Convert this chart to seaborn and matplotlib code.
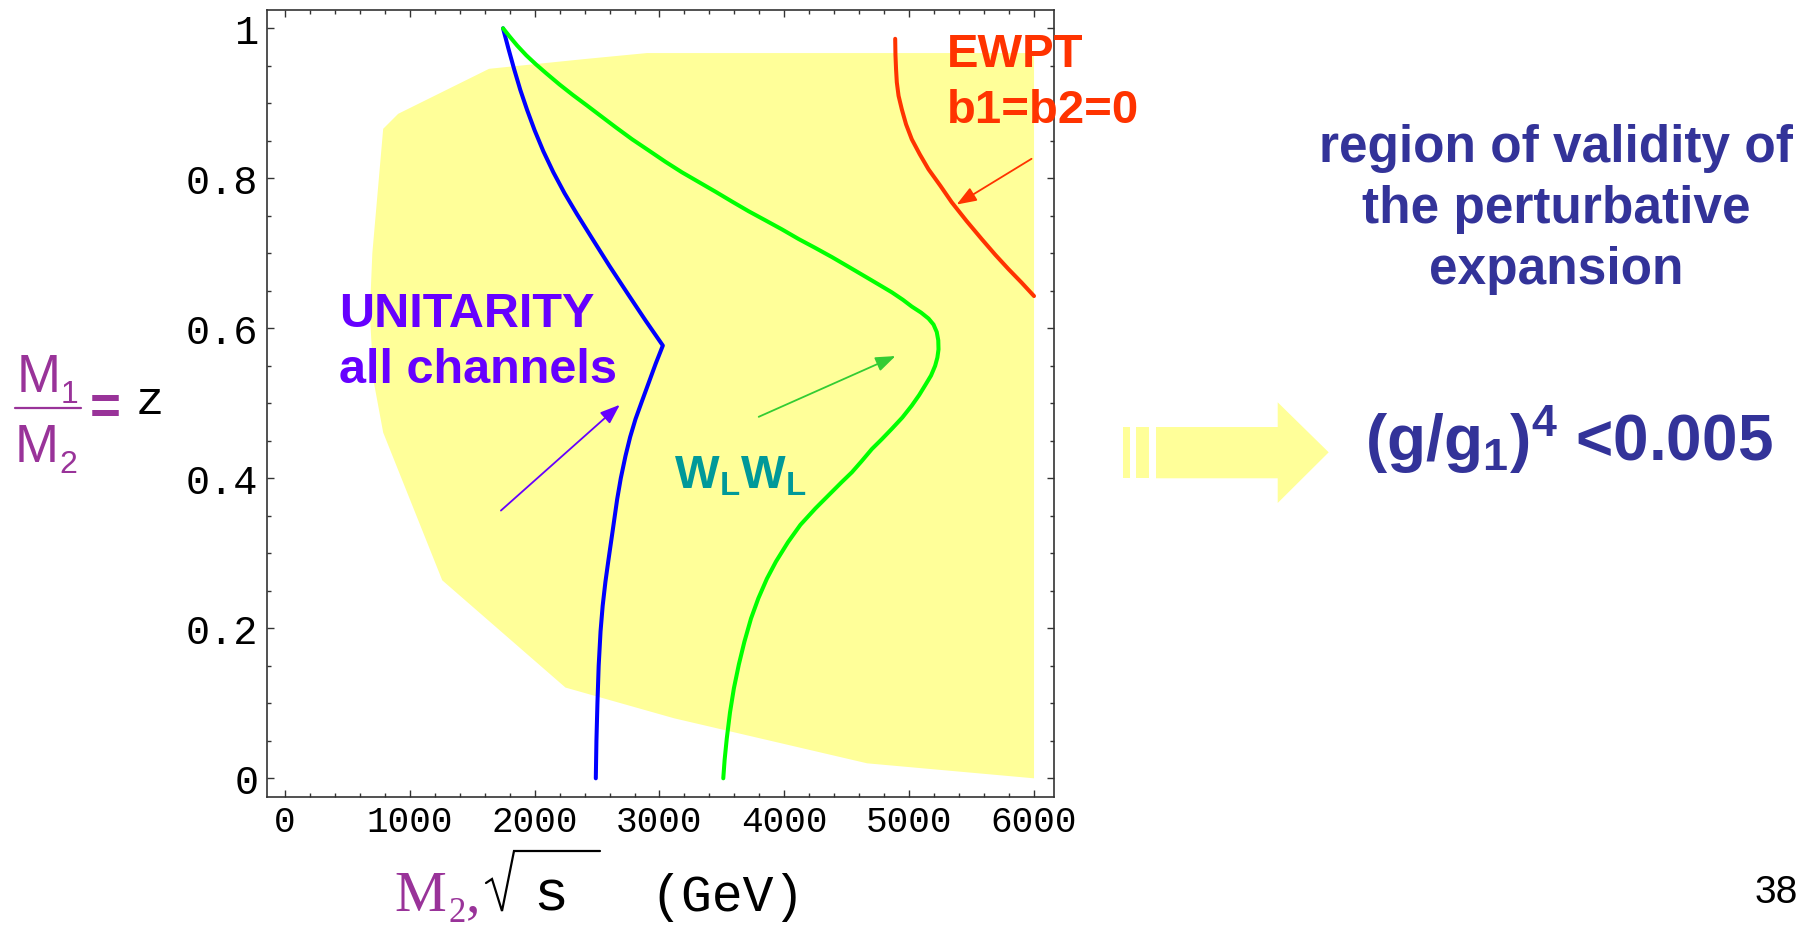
import matplotlib
matplotlib.use("Agg")
import matplotlib.pyplot as plt
import seaborn as sns
from matplotlib.lines import Line2D
from matplotlib.patches import Polygon
from matplotlib.ticker import MultipleLocator, FuncFormatter

# ---------------- data (M2 in GeV, z = M1/M2) ----------------
region_x = [907, 787, 700, 680, 710, 787, 1260, 2247, 3118, 4663, 6000,
            6000, 2900, 2400, 1635]
region_z = [0.886, 0.866, 0.70, 0.62, 0.53, 0.461, 0.264, 0.121, 0.080, 0.020, 0.0,
            0.967, 0.967, 0.959, 0.946]

unitarity_x = [1747, 1790, 1835, 1885, 1940, 2000, 2070, 2150, 2240, 2340, 2460, 2600,
               2750, 2890, 3027,
               2970, 2915, 2860, 2808, 2765, 2728, 2690, 2661, 2625, 2592, 2567,
               2545, 2528, 2513, 2503, 2495, 2490]
unitarity_z = [1.0, 0.973, 0.946, 0.918, 0.891, 0.864, 0.836, 0.808, 0.780, 0.752, 0.720, 0.683,
               0.645, 0.610, 0.577,
               0.553, 0.528, 0.503, 0.479, 0.455, 0.430, 0.400, 0.372, 0.330, 0.292, 0.262,
               0.230, 0.196, 0.150, 0.100, 0.050, 0.0]

wlwl_x = [1747, 1800, 1860, 1933, 2010, 2093, 2200, 2307, 2420, 2515, 2650, 2781,
          2915, 3048, 3180, 3315, 3450, 3581, 3715, 3848, 3980, 4115, 4250, 4381,
          4515, 4648, 4760, 4861, 4950, 5021, 5095, 5155, 5195, 5221, 5233, 5235,
          5226, 5208, 5175, 5128, 5080, 5021, 4945, 4861, 4780, 4701, 4620, 4541,
          4460, 4382, 4250, 4129, 4030, 3933, 3860, 3792, 3733, 3680, 3636, 3596,
          3565, 3539, 3522, 3511]
wlwl_z = [1.0, 0.989, 0.977, 0.964, 0.952, 0.940, 0.925, 0.911, 0.897, 0.885, 0.868, 0.852,
          0.837, 0.822, 0.808, 0.795, 0.782, 0.769, 0.756, 0.744, 0.732, 0.719, 0.707, 0.695,
          0.682, 0.669, 0.658, 0.648, 0.638, 0.629, 0.621, 0.613, 0.605, 0.595, 0.584, 0.572,
          0.561, 0.550, 0.537, 0.524, 0.511, 0.497, 0.481, 0.466, 0.452, 0.439, 0.423, 0.408,
          0.395, 0.382, 0.360, 0.338, 0.315, 0.289, 0.266, 0.240, 0.213, 0.182, 0.152, 0.120,
          0.088, 0.053, 0.025, 0.0]

ewpt_x = [4888, 4890, 4895, 4901, 4915, 4941, 4975, 5021, 5085, 5155, 5250, 5341,
          5460, 5581, 5690, 5795, 5900, 6000]
ewpt_z = [0.986, 0.965, 0.945, 0.928, 0.910, 0.892, 0.872, 0.852, 0.832, 0.812, 0.790, 0.768,
          0.743, 0.719, 0.698, 0.679, 0.661, 0.643]

x_ticks = [0, 1000, 2000, 3000, 4000, 5000, 6000]
y_ticks = [0, 0.2, 0.4, 0.6, 0.8, 1]

# annotation arrows: (start, tip) in data coordinates
arrow_unitarity = ((1730, 0.357), (2682, 0.498))
arrow_wlwl = ((3795, 0.482), (4890, 0.563))
arrow_ewpt = ((5980, 0.826), (5380, 0.765))

# ---------------- style ----------------
YELLOW = "#FFFF99"
BLUE = "#0000FF"
GREEN = "#00FF00"
RED = "#FF3300"
VIOLET = "#6600FF"
TEAL = "#009999"
NAVY = "#333399"
PURPLE = "#993399"

sns.set_theme(style="white")
plt.rcParams["font.family"] = ["Liberation Sans", "DejaVu Sans"]
plt.rcParams["mathtext.fontset"] = "custom"
plt.rcParams["mathtext.rm"] = "Liberation Sans"
plt.rcParams["mathtext.bf"] = "Liberation Sans:bold"
plt.rcParams["mathtext.it"] = "Liberation Sans:italic"

W, H = 1819, 928
fig = plt.figure(figsize=(W / 100, H / 100), dpi=100)
fig.patch.set_facecolor("white")


def ftext(X, Y, s, **kw):
    """Text placed at pixel position (X from left, Y from top)."""
    return fig.text(X / W, 1 - Y / H, s, **kw)


def fline(xs, ys, **kw):
    fig.add_artist(Line2D([x / W for x in xs], [1 - y / H for y in ys],
                          transform=fig.transFigure, **kw))


ax = fig.add_axes([266.7 / W, 1 - 798.3 / H, (1054 - 266.7) / W, (798.3 - 10.7) / H])
ax.set_facecolor("white")

# perturbative-validity region
ax.fill(region_x, region_z, color=YELLOW, lw=0, zorder=0)

# bound curves
for xs, zs, col in [(unitarity_x, unitarity_z, BLUE),
                    (wlwl_x, wlwl_z, GREEN),
                    (ewpt_x, ewpt_z, RED)]:
    sns.lineplot(x=xs, y=zs, sort=False, estimator=None, color=col, lw=2.9,
                 ax=ax, zorder=3, solid_joinstyle="round", solid_capstyle="round")

# axes limits & ticks
ax.set_xlim(-146, 6160)
ax.set_ylim(-0.0253, 1.0248)
ax.xaxis.set_minor_locator(MultipleLocator(200))
ax.yaxis.set_minor_locator(MultipleLocator(0.05))
ax.set_xticks(x_ticks)
ax.set_yticks(y_ticks)
ax.xaxis.set_major_formatter(FuncFormatter(lambda v, p: f"{int(round(v))}"))
ax.yaxis.set_major_formatter(FuncFormatter(
    lambda v, p: "0" if abs(v) < 1e-9 else ("1" if abs(v - 1) < 1e-9 else f"{v:.1f}")))
ax.tick_params(which="both", direction="in", top=True, right=True, bottom=True, left=True,
               color="#333333", width=1.0)
ax.tick_params(which="major", length=5)
ax.tick_params(which="minor", length=3)
ax.tick_params(axis="x", which="major", pad=5, labelsize=26)
ax.tick_params(axis="y", which="major", pad=6, labelsize=29)
for lab in ax.get_xticklabels() + ax.get_yticklabels():
    lab.set_family("Liberation Mono")
    lab.set_color("black")
for sp in ax.spines.values():
    sp.set_color("#333333")
    sp.set_linewidth(1.2)
ax.set_xlabel("")
ax.set_ylabel("")

# in-plot labels
ax.text(432, 0.603, "UNITARITY", color=VIOLET, fontsize=35, fontweight="bold", va="baseline", zorder=4)
ax.text(432, 0.528, "all channels", color=VIOLET, fontsize=35, fontweight="bold", va="baseline", zorder=4)
ax.text(3120, 0.388, r"$\mathbf{W_L W_L}$", color=TEAL, fontsize=34, va="baseline", zorder=4)
ax.text(5304, 0.950, "EWPT", color=RED, fontsize=34, fontweight="bold", va="baseline", clip_on=False, zorder=4)
ax.text(5304, 0.875, "b1=b2=0", color=RED, fontsize=34, fontweight="bold", va="baseline", clip_on=False, zorder=4)

for (start, tip), col in [(arrow_unitarity, VIOLET), (arrow_wlwl, "#33CC33"), (arrow_ewpt, RED)]:
    ax.annotate("", xy=tip, xytext=start,
                arrowprops=dict(arrowstyle="-|>,head_length=0.8,head_width=0.3",
                                color=col, lw=1.3, mutation_scale=15,
                                shrinkA=0, shrinkB=0), zorder=4)

# y-axis label: M1/M2 = z
ftext(17, 392, "M", color=PURPLE, fontsize=38, va="baseline")
ftext(61, 403, "1", color=PURPLE, fontsize=23, va="baseline")
fline([15, 81], [409, 409], color=PURPLE, lw=1.6)
ftext(15, 462, "M", color=PURPLE, fontsize=38, va="baseline")
ftext(59, 473, "2", color=PURPLE, fontsize=23, va="baseline")
ftext(105.5, 404, "=", color=PURPLE, fontsize=38, fontweight="bold", ha="center", va="center_baseline")
ftext(136, 414, "z", color="black", fontsize=34, family="Liberation Mono", va="baseline")

# x-axis label: M2, sqrt(s) (GeV)
ftext(394, 911, "M", color=PURPLE, fontsize=42, family="Liberation Serif", va="baseline")
ftext(448, 922, "2", color=PURPLE, fontsize=25, family="Liberation Serif", va="baseline")
ftext(466, 911, ",", color=PURPLE, fontsize=42, family="Liberation Serif", va="baseline")
fline([486, 492, 502, 514, 600], [884, 880, 912, 852, 852],
      color="black", lw=1.6, solid_joinstyle="miter")
ftext(533, 911, "s", color="black", fontsize=42, family="Liberation Mono", va="baseline")
ftext(650, 911, "(GeV)", color="black", fontsize=37, family="Liberation Mono", va="baseline")

# right-hand statement
ftext(1556, 162.4, "region of validity of", color=NAVY, fontsize=37, fontweight="bold", ha="center", va="baseline")
ftext(1556, 222.7, "the perturbative", color=NAVY, fontsize=37, fontweight="bold", ha="center", va="baseline")
ftext(1556, 284, "expansion", color=NAVY, fontsize=37, fontweight="bold", ha="center", va="baseline")
ftext(1569, 461, r"$\mathbf{(g/g_1)^4}$ <0.005", color=NAVY, fontsize=46, fontweight="bold",
      ha="center", va="baseline")

# block arrow
for x0, x1 in [(1123, 1130), (1136, 1149)]:
    fig.add_artist(Polygon([(x0 / W, 1 - 428 / H), (x1 / W, 1 - 428 / H),
                            (x1 / W, 1 - 479.3 / H), (x0 / W, 1 - 479.3 / H)],
                           closed=True, transform=fig.transFigure, color=YELLOW, lw=0))
arrow_px = [(1156, 428), (1277.7, 428), (1277.7, 403.3), (1328.7, 453.3),
            (1277.7, 504), (1277.7, 479.3), (1156, 479.3)]
fig.add_artist(Polygon([(x / W, 1 - y / H) for x, y in arrow_px], closed=True,
                       transform=fig.transFigure, color=YELLOW, lw=0))

# slide number
ftext(1776, 903, "38", color="black", fontsize=28, ha="center", va="baseline")

fig.savefig("out.png", dpi=100, facecolor="white")
